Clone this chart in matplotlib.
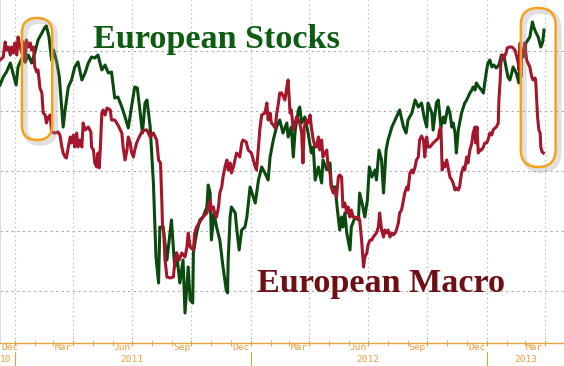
import pandas as pd
import matplotlib.pyplot as plt
import matplotlib.dates as mdates
from matplotlib.patches import FancyBboxPatch
from matplotlib.transforms import blended_transform_factory

# series: day offset from 2010-12-08, index level
start = pd.Timestamp("2010-12-08")

stocks_days = [
    0, 5, 10, 16, 21, 25, 28, 34, 39, 44,
    49, 54, 59, 65, 70, 72, 76, 80, 83, 88,
    92, 96, 98, 101, 106, 111, 116, 121, 127, 132,
    137, 142, 147, 152, 158, 163, 168, 173, 178, 183,
    189, 194, 199, 204, 209, 213, 217, 221, 225, 228,
    233, 238, 242, 246, 248, 253, 259, 266, 271, 274,
    279, 284, 287, 292, 295, 299, 300, 305, 310, 315,
    321, 323, 326, 328, 332, 336, 341, 346, 351, 353,
    354, 357, 359, 365, 367, 371, 375, 380, 383, 388,
    393, 396, 401, 406, 411, 416, 419, 424, 429, 434,
    439, 445, 447, 452, 455, 458, 463, 465, 468, 473,
    478, 483, 486, 489, 494, 499, 501, 507, 512, 514,
    520, 523, 527, 530, 532, 535, 538, 543, 545, 551,
    556, 558, 563, 566, 570, 573, 577, 582, 584, 588,
    592, 595, 599, 602, 608, 613, 618, 620, 626, 630,
    633, 639, 644, 649, 654, 658, 662, 664, 670, 672,
    677, 680, 684, 688, 690, 695, 698, 701, 703, 706,
    708, 711, 713, 716, 721, 724, 729, 732, 734, 737,
    739, 743, 747, 750, 752, 755, 757, 760, 763, 766,
    770, 774, 778, 782, 785, 788, 791, 794, 796, 801,
    805, 808, 812, 816, 819, 822, 826, 828, 831, 835,
    839, 842, 844,
]
stocks_vals = [
    266, 274, 279, 288, 276, 266, 284, 293, 289, 296,
    288, 298, 311, 318, 324, 325, 314, 291, 301, 289,
    274, 241, 224, 241, 264, 271, 284, 289, 271, 278,
    288, 294, 293, 296, 281, 286, 278, 279, 253, 254,
    244, 234, 223, 244, 264, 263, 241, 218, 248, 251,
    224, 168, 94, 68, 124, 124, 91, 131, 84, 98,
    68, 91, 38, 84, 51, 48, 98, 118, 131, 134,
    144, 166, 158, 111, 138, 124, 111, 84, 61, 58,
    91, 134, 144, 138, 124, 101, 121, 124, 134, 164,
    154, 148, 171, 184, 178, 171, 194, 211, 224, 231,
    218, 228, 214, 224, 194, 221, 241, 244, 228, 234,
    218, 198, 204, 171, 184, 168, 191, 181, 188, 164,
    164, 144, 121, 134, 124, 138, 118, 101, 124, 134,
    131, 158, 144, 134, 151, 184, 174, 181, 171, 201,
    191, 158, 201, 211, 224, 231, 238, 241, 224, 218,
    231, 238, 251, 244, 248, 234, 224, 248, 238, 221,
    248, 251, 224, 234, 228, 244, 238, 224, 228, 218,
    198, 221, 228, 238, 248, 251, 258, 261, 264, 261,
    268, 264, 261, 258, 268, 281, 288, 291, 284, 286,
    283, 286, 296, 294, 284, 274, 271, 278, 284, 278,
    268, 298, 294, 308, 311, 314, 329, 324, 319, 314,
    304, 309, 321,
]

macro_days = [
    0, 5, 8, 10, 13, 16, 18, 21, 23, 26,
    28, 31, 34, 36, 39, 41, 44, 47, 49, 52,
    54, 57, 59, 62, 65, 67, 70, 72, 75, 78,
    80, 85, 90, 93, 96, 98, 101, 103, 106, 109,
    111, 114, 116, 119, 121, 124, 127, 129, 132, 137,
    141, 142, 145, 147, 150, 152, 154, 156, 158, 160,
    163, 166, 171, 173, 178, 183, 189, 191, 194, 197,
    199, 202, 204, 207, 209, 212, 216, 220, 225, 228,
    233, 238, 243, 246, 249, 251, 252, 254, 256, 259,
    264, 269, 271, 274, 278, 282, 287, 290, 292, 295,
    300, 302, 305, 310, 315, 321, 326, 328, 331, 333,
    336, 339, 341, 344, 346, 349, 352, 354, 357, 359,
    362, 367, 370, 372, 375, 377, 382, 385, 390, 396,
    398, 401, 403, 406, 411, 414, 416, 419, 421, 424,
    427, 429, 432, 434, 437, 442, 445, 447, 450, 452,
    455, 458, 460, 463, 465, 468, 470, 472, 475, 478,
    481, 483, 486, 489, 491, 494, 496, 499, 501, 504,
    507, 509, 512, 514, 517, 520, 522, 525, 527, 530,
    532, 535, 538, 540, 543, 545, 548, 551, 553, 556,
    558, 561, 564, 566, 569, 571, 574, 577, 579, 584,
    587, 589, 592, 595, 597, 600, 602, 605, 608, 610,
    613, 615, 618, 620, 623, 626, 628, 631, 633, 636,
    639, 641, 644, 646, 649, 651, 654, 657, 659, 662,
    664, 667, 672, 677, 680, 682, 684, 686, 688, 690,
    693, 695, 698, 701, 703, 706, 708, 711, 713, 716,
    719, 721, 724, 726, 729, 732, 734, 737, 738, 740,
    742, 745, 747, 750, 752, 755, 757, 760, 763, 765,
    768, 770, 773, 774, 776, 777, 780, 782, 785, 787,
    790, 794, 796, 799, 801, 804, 805, 807, 808, 809,
    812, 814, 817, 819, 822, 825, 827, 830, 831, 832,
    834, 836, 838, 839, 841, 843,
]
macro_vals = [
    291, 294, 309, 301, 304, 296, 304, 298, 308, 296,
    314, 304, 298, 309, 289, 311, 304, 308, 301, 304,
    284, 279, 281, 263, 258, 238, 236, 228, 234, 236,
    219, 218, 219, 216, 204, 198, 194, 193, 204, 214,
    208, 216, 204, 218, 204, 211, 204, 228, 221, 224,
    219, 204, 201, 188, 184, 198, 183, 208, 238, 241,
    236, 243, 241, 231, 231, 226, 218, 204, 191, 201,
    214, 208, 199, 194, 201, 208, 214, 219, 221, 221,
    214, 218, 211, 191, 188, 151, 128, 118, 91, 74,
    73, 74, 88, 98, 91, 98, 94, 104, 118, 104,
    101, 118, 124, 129, 134, 138, 151, 141, 144, 138,
    134, 144, 158, 164, 174, 184, 191, 181, 188, 178,
    184, 198, 196, 194, 208, 211, 209, 201, 198, 184,
    181, 204, 221, 236, 238, 248, 231, 238, 228, 226,
    223, 236, 248, 258, 258, 251, 264, 271, 238, 241,
    221, 228, 234, 231, 228, 218, 188, 224, 231, 228,
    236, 224, 211, 204, 204, 214, 201, 211, 194, 198,
    201, 184, 178, 164, 158, 161, 154, 174, 176, 174,
    144, 148, 138, 144, 134, 141, 134, 133, 133, 134,
    131, 111, 84, 94, 98, 106, 111, 111, 114, 118,
    124, 138, 121, 114, 121, 118, 121, 114, 118, 116,
    118, 121, 128, 138, 141, 151, 158, 164, 161, 178,
    181, 178, 184, 191, 194, 211, 215, 211, 194, 214,
    204, 204, 208, 211, 213, 221, 224, 181, 188, 184,
    191, 184, 174, 171, 168, 161, 163, 161, 164, 178,
    184, 181, 194, 188, 201, 208, 218, 224, 208, 224,
    198, 201, 201, 204, 208, 208, 211, 218, 216, 221,
    223, 224, 228, 251, 271, 288, 296, 293, 298, 303,
    304, 304, 303, 301, 296, 288, 281, 308, 274, 301,
    298, 308, 291, 288, 284, 274, 271, 273, 271, 258,
    234, 221, 218, 204, 199, 198,
]

# highlighted windows: first day, last day, padding (index points)
highlight_windows = [(34, 81, 8), (808, 862, 14)]

quarter_ticks = ["2011-01-01", "2011-04-01", "2011-07-01", "2011-10-01",
                 "2012-01-01", "2012-04-01", "2012-07-01", "2012-10-01",
                 "2013-01-01", "2013-04-01"]
quarter_labels = ["Dec", "Mar", "Jun", "Sep", "Dec", "Mar", "Jun", "Sep", "Dec", "Mar"]
year_labels = ["10", "2011", "2012", "2013"]
grid_levels = [60, 120, 180, 240, 300]

stocks_dates = start + pd.to_timedelta(stocks_days, unit="D")
macro_dates = start + pd.to_timedelta(macro_days, unit="D")

green = "#0b4a0e"
red = "#a3162b"
orange = "#e8a040"

fig = plt.figure(figsize=(5.64, 3.66), dpi=100)
ax = fig.add_axes([0, 23.3 / 366, 1, 342.7 / 366])

x0 = start
x1 = start + pd.Timedelta(days=875)
ax.set_xlim(x0, x1)
ax.set_ylim(8.3, 351)

for lv in grid_levels:
    ax.axhline(lv, color="#aaaaaa", lw=0.8, ls=(0, (2, 3)), zorder=0)
qt = pd.to_datetime(quarter_ticks)
for t in qt:
    ax.axvline(t, color="#aaaaaa", lw=0.8, ls=(0, (1, 3)), zorder=0)

ax.plot(stocks_dates, stocks_vals, color=green, lw=2.2, zorder=3)
ax.plot(macro_dates, macro_vals, color=red, lw=2.2, zorder=4)

# axis styling
for s in ["top", "right"]:
    ax.spines[s].set_visible(False)
ax.spines["left"].set_color("#dddddd")
ax.spines["bottom"].set_color(orange)
ax.spines["bottom"].set_linewidth(1.0)
ax.set_yticks([])
ax.set_xticks(qt)
ax.xaxis.set_minor_locator(mdates.MonthLocator())
ax.tick_params(axis="x", which="both", direction="inout", length=4,
               color=orange, labelbottom=False)

trans = blended_transform_factory(ax.transData, fig.transFigure)
for i, (t, lab) in enumerate(zip(qt, quarter_labels)):
    if i == 0:
        pos, ha = x0 + pd.Timedelta(days=2), "left"
    else:
        pos, ha = t - pd.Timedelta(days=2), "right"
    ax.text(pos, 1 - 348 / 366, lab, transform=trans,
            ha=ha, va="center", fontsize=6.8, color=orange,
            family="DejaVu Sans Mono", clip_on=False)

year_pos = [x0, pd.Timestamp("2011-07-01"), pd.Timestamp("2012-07-01"),
            pd.Timestamp("2013-01-01") + (x1 - pd.Timestamp("2013-01-01")) / 2]
year_ha = ["left", "center", "center", "center"]
for p, lab, ha in zip(year_pos, year_labels, year_ha):
    ax.text(p, 1 - 360 / 366, lab, transform=trans, ha=ha, va="center",
            fontsize=6.8, color=orange, family="DejaVu Sans Mono", clip_on=False)
for y in ["2011-01-01", "2012-01-01", "2013-01-01"]:
    ax.plot([pd.Timestamp(y)] * 2, [0, 1 - 352 / 366], transform=trans,
            color=orange, lw=0.8, clip_on=False)

ax.text(93 / 564, (342.7 - 48) / 342.7, "European Stocks", transform=ax.transAxes,
        family="Liberation Serif", weight="bold", fontsize=24.6, color="#0d5c12",
        va="baseline", ha="left", zorder=6)
ax.text(257 / 564, (342.7 - 292) / 342.7, "European Macro", transform=ax.transAxes,
        family="Liberation Serif", weight="bold", fontsize=24.6, color="#6e0f16",
        va="baseline", ha="left", zorder=6)

# rounded highlight boxes around the two windows
for d0, d1, pad in highlight_windows:
    vals = [v for d, v in zip(stocks_days, stocks_vals) if d0 <= d <= d1] + \
           [v for d, v in zip(macro_days, macro_vals) if d0 <= d <= d1]
    p0 = ax.transData.transform((mdates.date2num(start + pd.Timedelta(days=d0)), min(vals) - pad))
    p1 = ax.transData.transform((mdates.date2num(start + pd.Timedelta(days=d1)), max(vals) + pad))
    w, h = p1[0] - p0[0], p1[1] - p0[1]
    r = w / 2
    shadow = FancyBboxPatch((p0[0] + 3, p0[1] - 3), w, h,
                            boxstyle=f"round,pad=0,rounding_size={r}",
                            transform=None, fill=False, ec="#999999", lw=4,
                            alpha=0.3, zorder=5)
    box = FancyBboxPatch((p0[0], p0[1]), w, h,
                         boxstyle=f"round,pad=0,rounding_size={r}",
                         transform=None, fill=False, ec="#f5a21a", lw=1.8, zorder=6)
    fig.patches.append(shadow)
    fig.patches.append(box)

fig.savefig("out.png", dpi=100)
